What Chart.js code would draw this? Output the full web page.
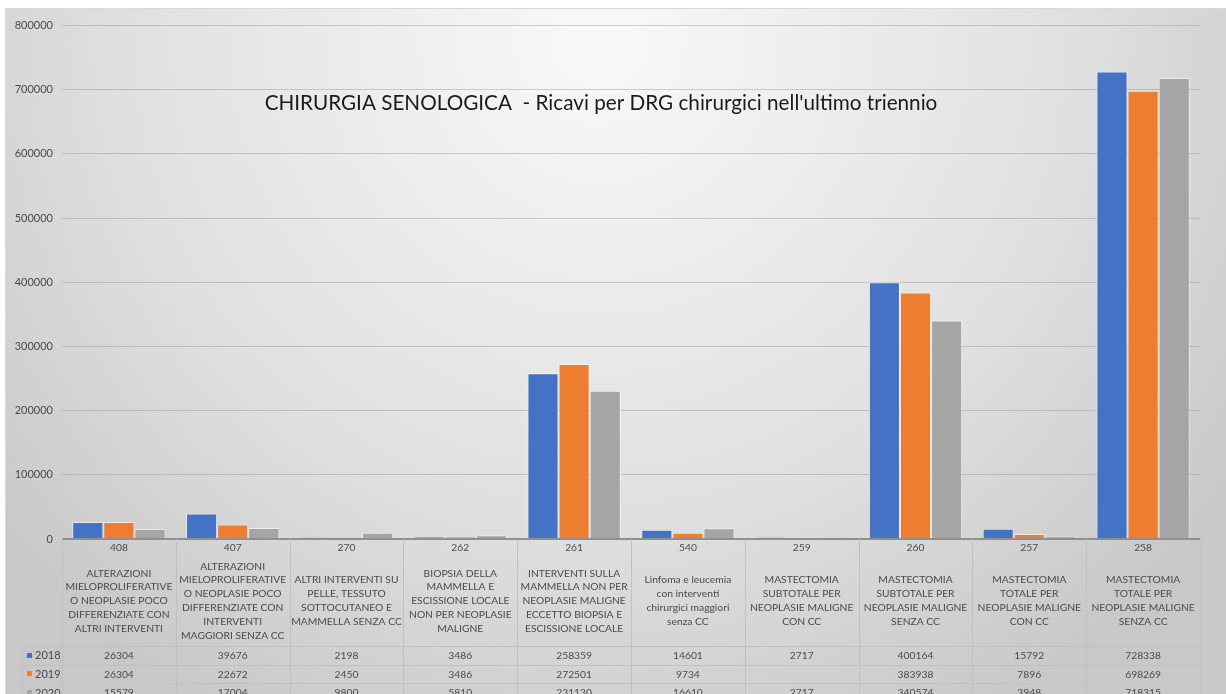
<!DOCTYPE html>
<html lang="it">
<head>
<meta charset="utf-8">
<title>Chirurgia senologica - Ricavi per DRG</title>
<script src="https://cdn.jsdelivr.net/npm/chart.js@4/dist/chart.umd.min.js"></script>
<style>
  html, body { margin: 0; padding: 0; background: #ffffff; }
  canvas { display: block; }
</style>
</head>
<body>
<canvas id="drgChart" width="1226" height="694"></canvas>
<script>
// DRG chirurgici (codici e descrizioni)
const drgCodes = ['408', '407', '270', '262', '261', '540', '259', '260', '257', '258'];
const drgDescriptions = [
  ['ALTERAZIONI', 'MIELOPROLIFERATIVE', 'O NEOPLASIE POCO', 'DIFFERENZIATE CON', 'ALTRI INTERVENTI'],
  ['ALTERAZIONI', 'MIELOPROLIFERATIVE', 'O NEOPLASIE POCO', 'DIFFERENZIATE CON', 'INTERVENTI', 'MAGGIORI SENZA CC'],
  ['ALTRI INTERVENTI SU', 'PELLE, TESSUTO', 'SOTTOCUTANEO E', 'MAMMELLA SENZA CC'],
  ['BIOPSIA DELLA', 'MAMMELLA E', 'ESCISSIONE LOCALE', 'NON PER NEOPLASIE', 'MALIGNE'],
  ['INTERVENTI SULLA', 'MAMMELLA NON PER', 'NEOPLASIE MALIGNE', 'ECCETTO BIOPSIA E', 'ESCISSIONE LOCALE'],
  ['Linfoma e leucemia', 'con interventi', 'chirurgici maggiori', 'senza CC'],
  ['MASTECTOMIA', 'SUBTOTALE PER', 'NEOPLASIE MALIGNE', 'CON CC'],
  ['MASTECTOMIA', 'SUBTOTALE PER', 'NEOPLASIE MALIGNE', 'SENZA CC'],
  ['MASTECTOMIA', 'TOTALE PER', 'NEOPLASIE MALIGNE', 'CON CC'],
  ['MASTECTOMIA', 'TOTALE PER', 'NEOPLASIE MALIGNE', 'SENZA CC']
];

// Ricavi per anno (euro)
const years = ['2018', '2019', '2020'];
const ricavi2018 = [26304, 39676, 2198, 3486, 258359, 14601, 2717, 400164, 15792, 728338];
const ricavi2019 = [26304, 22672, 2450, 3486, 272501, 9734, null, 383938, 7896, 698269];
const ricavi2020 = [15579, 17004, 9800, 5810, 231130, 16610, 2717, 340574, 3948, 718315];

// Asse dei valori
const yMin = 0;
const yMax = 800000;
const yStep = 100000;

const chartTitle = "CHIRURGIA SENOLOGICA  - Ricavi per DRG chirurgici nell'ultimo triennio";
const seriesColors = ['#4472C4', '#ED7D31', '#A5A5A5'];
const seriesValues = [ricavi2018, ricavi2019, ricavi2020];

const FONT = 'Lato, "Open Sans", sans-serif';
const TEXT_GREY = '#4a4a4a';
const LINE_GREY = '#c0c0c0';

// Sfondo a gradiente con cornice
const backgroundPlugin = {
  id: 'sfondo',
  beforeDraw(chart) {
    const { ctx, width, height } = chart;
    ctx.save();
    ctx.fillStyle = '#ffffff';
    ctx.fillRect(0, 0, width, height);
    const g = ctx.createRadialGradient(600, 40, 20, 600, 40, 780);
    g.addColorStop(0, '#f8f8f8');
    g.addColorStop(0.6, '#e0e0e0');
    g.addColorStop(1, '#c8c8c8');
    ctx.fillStyle = g;
    ctx.fillRect(5, 8, width - 5, height - 8);
    ctx.strokeStyle = '#d9d9d9';
    ctx.lineWidth = 1;
    ctx.beginPath();
    ctx.moveTo(5.5, height);
    ctx.lineTo(5.5, 8.5);
    ctx.lineTo(width, 8.5);
    ctx.stroke();
    ctx.restore();
  }
};

// Titolo dentro l'area del grafico
const titlePlugin = {
  id: 'titoloInterno',
  afterDatasetsDraw(chart) {
    const { ctx } = chart;
    ctx.save();
    ctx.font = '20.7px ' + FONT;
    ctx.fillStyle = '#1a1a1a';
    ctx.textAlign = 'center';
    ctx.textBaseline = 'middle';
    ctx.fillText(chartTitle, 601, 103);
    ctx.restore();
  }
};

// Tabella dati sotto l'asse delle categorie
const dataTablePlugin = {
  id: 'tabellaDati',
  afterDraw(chart) {
    const { ctx, chartArea } = chart;
    const xs = chart.scales.x;
    const n = drgCodes.length;
    const colW = (chartArea.right - chartArea.left) / n;
    const top = chartArea.bottom;
    const bottom = chart.height;
    const rowTop = top + 107;
    const rowH = 18.6;
    const legendLeft = 21;

    ctx.save();
    ctx.strokeStyle = LINE_GREY;
    ctx.lineWidth = 1;
    ctx.beginPath();
    for (let i = 0; i <= n; i++) {
      const x = Math.round(chartArea.left + i * colW) + 0.5;
      ctx.moveTo(x, top);
      ctx.lineTo(x, bottom);
    }
    ctx.moveTo(legendLeft + 0.5, rowTop);
    ctx.lineTo(legendLeft + 0.5, bottom);
    for (let r = 0; r < years.length; r++) {
      const y = Math.round(rowTop + r * rowH) + 0.5;
      ctx.moveTo(legendLeft, y);
      ctx.lineTo(chartArea.right, y);
    }
    ctx.stroke();

    ctx.fillStyle = TEXT_GREY;
    ctx.textAlign = 'center';
    ctx.textBaseline = 'middle';
    ctx.font = '10.3px ' + FONT;
    const lineH = 13.9;
    for (let i = 0; i < n; i++) {
      const cx = xs.getPixelForValue(i);
      ctx.fillText(drgCodes[i], cx, top + 9);
      const lines = drgDescriptions[i];
      const startY = top + 62 - (lines.length - 1) * lineH / 2;
      lines.forEach((ln, k) => ctx.fillText(ln, cx, startY + k * lineH));
      seriesValues.forEach((vals, r) => {
        if (vals[i] !== null) {
          ctx.fillText(String(vals[i]), cx, rowTop + r * rowH + rowH / 2 + 0.5);
        }
      });
    }

    ctx.font = '11px ' + FONT;
    ctx.textAlign = 'left';
    years.forEach((yr, r) => {
      const cy = rowTop + r * rowH + rowH / 2 + 0.5;
      ctx.fillStyle = seriesColors[r];
      ctx.fillRect(27, Math.round(cy - 3), 5, 5);
      ctx.fillStyle = TEXT_GREY;
      ctx.fillText(yr, 35, cy);
    });
    ctx.restore();
  }
};

new Chart(document.getElementById('drgChart'), {
  type: 'bar',
  data: {
    labels: drgCodes,
    datasets: years.map((yr, i) => ({
      label: yr,
      data: seriesValues[i],
      backgroundColor: seriesColors[i],
      borderColor: 'rgba(255,255,255,0.55)',
      borderWidth: 1,
      categoryPercentage: 0.82,
      barPercentage: 1.0
    }))
  },
  options: {
    responsive: false,
    animation: false,
    devicePixelRatio: 1,
    layout: { padding: { top: 25.5, right: 26, bottom: 155, left: 0 } },
    plugins: {
      legend: { display: false },
      title: { display: false },
      tooltip: { enabled: false }
    },
    scales: {
      x: { display: false },
      y: {
        min: yMin,
        max: yMax,
        ticks: {
          stepSize: yStep,
          padding: 9,
          color: TEXT_GREY,
          font: { family: FONT, size: 11 },
          callback: (v) => String(v)
        },
        grid: {
          drawTicks: false,
          color: (c) => c.tick && c.tick.value === 0 ? '#8f8f8f' : 'rgba(140,140,140,0.4)',
          lineWidth: (c) => c.tick && c.tick.value === 0 ? 2 : 1
        },
        border: { display: false },
        afterFit(scale) { scale.width = 62; }
      }
    }
  },
  plugins: [backgroundPlugin, titlePlugin, dataTablePlugin]
});
</script>
</body>
</html>
